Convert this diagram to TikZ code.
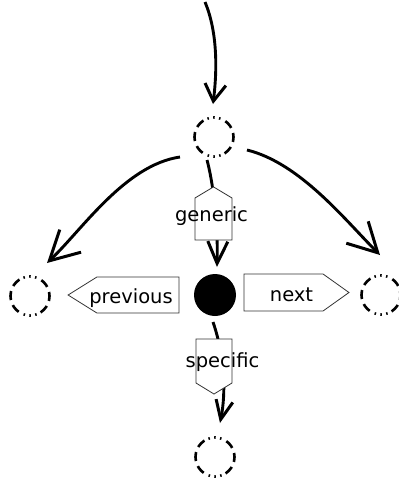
\documentclass[tikz,border=0pt]{standalone}
\usepackage{fontspec}
\newfontfamily\dejavu{DejaVu Sans}
\usetikzlibrary{arrows.meta,shapes.symbols,calc}

\begin{document}
\begin{tikzpicture}[x=1pt,y=-1pt,
  state/.style={circle, draw, line width=2.6pt, minimum size=39pt, inner sep=0pt, outer sep=0pt,
    dash pattern=on 9pt off 5.5pt on 9pt off 5.5pt on 9pt off 5.5pt on 1.5pt off 4.4pt on 1.5pt off 4.4pt on 1.5pt off 4.4pt,
    dash phase=19.5pt},
  hubnode/.style={circle, fill=black, minimum size=42pt, inner sep=0pt},
  flow/.style={line width=2.9pt},
  tag/.style={signal, draw=black!80, line width=0.8pt, fill=white, inner sep=0pt},
  tagtext/.style={anchor=base, inner sep=0pt, font=\dejavu\fontsize{19.5}{22}\selectfont}
]
\useasboundingbox (0,0) rectangle (399,483);

% states
\node[state] (ctop) at (214,137) {};
\node[state] (cleft) at (30,296) {};
\node[state] (cright) at (381,295) {};
\node[state] (cbot) at (215,457) {};
\node[hubnode] (hub) at (215,295) {};
\coordinate (src) at (205,2);

% connectors
\draw[flow, -{Straight Barb[length=17pt,width=21pt,line width=3pt]}]
  (src) .. controls +(13,31) and +(4,-32) .. ($(ctop)+(-1,-33)$);
\draw[flow, -{Straight Barb[length=29pt,width=31pt,line width=3pt]}]
  ($(ctop)+(-34,20)$) .. controls +(-55,8) and +(35,-33) .. ($(cleft)+(17,-33)$);
\draw[flow, -{Straight Barb[length=29pt,width=31pt,line width=3pt]}]
  ($(ctop)+(33,13)$) .. controls +(53,13) and +(-35,-35) .. ($(cright)+(-1,-40)$);
\draw[flow, -{Straight Barb[length=22pt,width=20pt,line width=3pt]}]
  ($(ctop)+(-7,23)$) .. controls +(8,30) and +(1,-32) .. ($(hub)+(2,-28)$);
\draw[flow, -{Straight Barb[length=19pt,width=17pt,line width=3pt]}]
  ($(hub)+(-2,27)$) .. controls +(12,35) and +(6,-30) .. ($(cbot)+(5,-34)$);

% labelled tags (centred on their rectangular part)
\node[tag, signal to=west, signal pointer angle=64, minimum width=111pt, minimum height=36pt] (prev) at (138,295) {};
\node[tag, signal to=east, signal pointer angle=71, minimum width=105pt, minimum height=37pt] (next) at (283.5,292.5) {};
\node[tag, signal to=north, signal pointer angle=118, minimum width=37pt, minimum height=42pt] (gen) at (213.5,219) {};
\node[tag, signal to=south, signal pointer angle=117, minimum width=36pt, minimum height=44pt] (spec) at (214,361) {};

\node[tagtext] (tprev) at (131,303) {previous};
\node[tagtext] (tnext) at (291.5,301) {next};
\node[tagtext] (tgen) at (211.5,221) {generic};
\node[tagtext] (tspec) at (222.5,367) {specific};
\end{tikzpicture}
\end{document}
